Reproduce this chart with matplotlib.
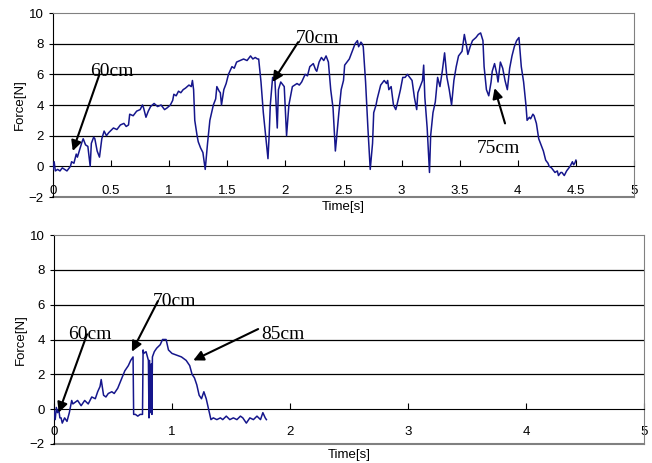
import matplotlib.pyplot as plt

# upper trace: time [s], force [N]
t_top = [0.00, 0.01, 0.02, 0.04, 0.06, 0.08, 0.10, 0.12, 0.14, 0.15, 0.16, 0.18, 0.20, 0.21, 0.23,
         0.25, 0.26, 0.28, 0.30, 0.32, 0.33, 0.35, 0.36, 0.38, 0.40, 0.42, 0.44, 0.46, 0.48, 0.52,
         0.55, 0.58, 0.61, 0.63, 0.65, 0.66, 0.69, 0.72, 0.75, 0.77, 0.78, 0.80, 0.82, 0.84, 0.87,
         0.90, 0.93, 0.96, 0.98, 1.01, 1.03, 1.04, 1.06, 1.08, 1.10, 1.12, 1.14, 1.17, 1.19, 1.20,
         1.21, 1.22, 1.24, 1.25, 1.27, 1.29, 1.31, 1.33, 1.35, 1.38, 1.40, 1.41, 1.43, 1.44, 1.45,
         1.47, 1.49, 1.51, 1.54, 1.56, 1.58, 1.61, 1.64, 1.67, 1.70, 1.72, 1.74, 1.76, 1.77, 1.79,
         1.81, 1.83, 1.85, 1.86, 1.87, 1.89, 1.91, 1.92, 1.93, 1.94, 1.96, 1.98, 1.99, 2.01, 2.03,
         2.06, 2.08, 2.10, 2.12, 2.14, 2.17, 2.19, 2.21, 2.24, 2.26, 2.27, 2.29, 2.31, 2.33, 2.35,
         2.37, 2.39, 2.41, 2.43, 2.44, 2.46, 2.48, 2.50, 2.51, 2.53, 2.55, 2.57, 2.58, 2.60, 2.62,
         2.63, 2.65, 2.66, 2.67, 2.69, 2.71, 2.73, 2.75, 2.76, 2.78, 2.79, 2.82, 2.85, 2.87, 2.88,
         2.89, 2.91, 2.93, 2.95, 2.96, 2.99, 3.01, 3.03, 3.05, 3.06, 3.09, 3.11, 3.13, 3.14, 3.16,
         3.18, 3.19, 3.20, 3.22, 3.24, 3.25, 3.27, 3.29, 3.31, 3.33, 3.35, 3.37, 3.39, 3.41, 3.43,
         3.45, 3.47, 3.49, 3.52, 3.54, 3.56, 3.57, 3.59, 3.61, 3.64, 3.66, 3.68, 3.70, 3.71, 3.73,
         3.75, 3.77, 3.78, 3.80, 3.82, 3.83, 3.85, 3.87, 3.89, 3.91, 3.93, 3.95, 3.97, 3.99, 4.01,
         4.03, 4.05, 4.07, 4.08, 4.10, 4.11, 4.13, 4.14, 4.16, 4.18, 4.20, 4.22, 4.24, 4.26, 4.27,
         4.29, 4.30, 4.32, 4.34, 4.35, 4.37, 4.38, 4.40, 4.42, 4.43, 4.45, 4.47, 4.48, 4.49, 4.50]
f_top = [-0.2, 0.3, -0.3, -0.2, -0.3, -0.1, -0.2, -0.3, -0.1, 0.0, 0.3, 0.2, 0.8, 0.6, 1.1,
         1.6, 1.8, 1.4, 1.3, 0.0, 1.5, 1.9, 1.8, 1.0, 0.6, 1.8, 2.3, 2.0, 2.2, 2.5,
         2.4, 2.7, 2.8, 2.6, 2.7, 3.4, 3.3, 3.6, 3.7, 4.0, 3.8, 3.2, 3.6, 3.9, 4.1,
         3.9, 4.0, 3.7, 3.8, 4.0, 4.3, 4.7, 4.6, 4.9, 4.8, 5.0, 5.1, 5.3, 5.2, 5.6,
         5.0, 3.0, 2.0, 1.6, 1.2, 0.9, -0.2, 1.5, 3.0, 4.0, 4.4, 5.2, 4.9, 4.8, 4.0,
         5.0, 5.4, 6.0, 6.5, 6.4, 6.8, 6.9, 7.0, 6.9, 7.2, 7.0, 7.1, 7.0, 7.0, 5.5,
         3.5, 2.0, 0.5, 2.0, 4.0, 5.8, 5.6, 4.0, 2.5, 5.0, 5.5, 5.3, 5.2, 2.0, 4.0,
         5.2, 5.3, 5.4, 5.3, 5.5, 6.0, 5.9, 6.5, 6.7, 6.3, 6.2, 6.8, 7.1, 6.9, 7.2,
         6.8, 5.0, 3.8, 1.0, 1.8, 3.5, 5.0, 5.6, 6.6, 6.8, 7.0, 7.4, 7.6, 8.0, 8.2,
         7.8, 8.1, 8.0, 7.8, 5.5, 2.5, -0.2, 1.5, 3.5, 4.0, 4.4, 5.3, 5.6, 5.4, 5.6,
         5.0, 5.2, 4.0, 3.7, 4.0, 5.0, 5.8, 5.8, 6.0, 5.9, 5.6, 4.5, 3.7, 4.8, 5.2,
         5.6, 6.6, 4.5, 2.5, -0.4, 2.0, 3.5, 4.2, 5.8, 5.2, 6.2, 7.4, 5.8, 5.0, 4.0,
         5.6, 6.5, 7.2, 7.5, 8.6, 7.8, 7.3, 7.8, 8.2, 8.4, 8.6, 8.7, 8.2, 6.5, 5.0,
         4.6, 5.5, 6.2, 6.7, 6.0, 5.5, 6.8, 6.4, 5.6, 5.0, 6.4, 7.2, 7.8, 8.2, 8.4,
         6.5, 5.5, 4.0, 3.0, 3.2, 3.1, 3.4, 3.3, 2.8, 1.8, 1.4, 1.0, 0.4, 0.2, 0.0,
         -0.1, -0.2, -0.4, -0.3, -0.6, -0.4, -0.4, -0.6, -0.3, -0.2, 0.0, 0.3, 0.1, 0.2, 0.4]

# lower trace
t_bot = [0.00, 0.01, 0.02, 0.03, 0.04, 0.05, 0.06, 0.07, 0.09, 0.11, 0.13, 0.15, 0.16, 0.18, 0.20,
         0.23, 0.26, 0.29, 0.32, 0.35, 0.37, 0.39, 0.40, 0.42, 0.44, 0.46, 0.49, 0.51, 0.54, 0.57,
         0.60, 0.63, 0.65, 0.67, 0.675, 0.69, 0.71, 0.73, 0.75, 0.755, 0.76, 0.78, 0.80, 0.805, 0.81,
         0.82, 0.825, 0.83, 0.834, 0.85, 0.87, 0.90, 0.92, 0.95, 0.97, 1.00, 1.04, 1.08, 1.12, 1.15,
         1.17, 1.19, 1.21, 1.23, 1.25, 1.27, 1.29, 1.31, 1.33, 1.35, 1.38, 1.41, 1.43, 1.46, 1.49,
         1.52, 1.55, 1.58, 1.60, 1.63, 1.66, 1.69, 1.72, 1.75, 1.77, 1.79, 1.80]
f_bot = [-0.1, -0.6, 0.1, -0.2, 0.0, -0.5, -0.5, -0.8, -0.5, -0.7, -0.2, 0.5, 0.3, 0.4, 0.5,
         0.2, 0.5, 0.3, 0.7, 0.6, 1.0, 1.3, 1.7, 0.8, 0.7, 0.9, 1.0, 0.9, 1.2, 1.7,
         2.2, 2.5, 2.8, 3.0, -0.3, -0.3, -0.4, -0.3, -0.3, 3.4, 3.2, 3.3, 2.8, -0.5, 2.8,
         -0.2, 2.6, -0.3, 3.0, 3.3, 3.5, 3.7, 4.0, 4.0, 3.4, 3.2, 3.1, 3.0, 2.8, 2.5,
         2.0, 1.8, 1.4, 0.8, 0.6, 1.0, 0.6, 0.0, -0.6, -0.5, -0.6, -0.5, -0.6, -0.4, -0.6,
         -0.5, -0.6, -0.4, -0.5, -0.8, -0.5, -0.6, -0.4, -0.6, -0.2, -0.5, -0.6]

# annotations: label, text anchor (left, and top/bottom), arrow tail, arrow head
notes_top = [("60cm", (0.32, 5.6, "bottom"), (0.40, 6.0), (0.17, 1.0)),
             ("70cm", (2.09, 7.8, "bottom"), (2.11, 8.1), (1.89, 5.5)),
             ("75cm", (3.65, 1.7, "top"), (3.89, 2.8), (3.80, 5.1))]
notes_bot = [("60cm", (0.12, 3.8, "bottom"), (0.28, 4.3), (0.04, -0.2)),
             ("70cm", (0.84, 5.7, "bottom"), (0.88, 6.2), (0.66, 3.3)),
             ("85cm", (1.76, 3.8, "bottom"), (1.73, 4.6), (1.18, 2.8))]

line_color = "#15168c"
plt.rcParams['font.family'] = ['Liberation Sans', 'DejaVu Sans']

fig = plt.figure(figsize=(6.52, 4.63), dpi=100)
ax1 = fig.add_axes([53/652, 1 - 197/463, 581/652, 184/463])
ax2 = fig.add_axes([54/652, 1 - 444/463, 590/652, 209/463])


def style(ax, pad):
    ax.set_xlim(0, 5)
    ax.set_ylim(-2, 10)
    ax.set_yticks(range(-2, 11, 2))
    for y in (2, 4, 6, 8):
        ax.axhline(y, color="black", lw=0.9, zorder=1)
    ax.spines['bottom'].set_position(('data', 0))
    ax.spines['bottom'].set_color("black")
    ax.spines['left'].set_color("black")
    ax.spines['top'].set_color("#808080")
    ax.spines['right'].set_color("#808080")
    ax.axhline(-2, color="#808080", lw=1.5, clip_on=False, zorder=1)
    ax.tick_params(axis='x', direction='in', length=4, pad=pad, labelsize=9.5)
    ax.tick_params(axis='y', direction='out', length=3, labelsize=9.5)
    ax.set_ylabel("Force[N]", fontsize=9.5, labelpad=2)


style(ax1, 13.5)
ax1.set_xticks([0, 0.5, 1, 1.5, 2, 2.5, 3, 3.5, 4, 4.5, 5])
ax1.set_xticklabels(["0", "0.5", "1", "1.5", "2", "2.5", "3", "3.5", "4", "4.5", "5"])
ax1.plot(t_top, f_top, color=line_color, lw=1.1, zorder=3)
ax1.set_xlabel("Time[s]", fontsize=9.5)
ax1.xaxis.set_label_coords(0.5, -0.02)

style(ax2, 12)
ax2.set_xticks([0, 1, 2, 3, 4, 5])
ax2.plot(t_bot, f_bot, color=line_color, lw=1.1, zorder=3)
ax2.set_xlabel("Time[s]", fontsize=9.5)
ax2.xaxis.set_label_coords(0.5, -0.022)

for ax, notes in ((ax1, notes_top), (ax2, notes_bot)):
    for label, (tx, ty, va), tail, head in notes:
        ax.annotate("", xy=head, xytext=tail,
                    arrowprops=dict(arrowstyle="-|>", color="black", lw=1.5,
                                    mutation_scale=15, shrinkA=0, shrinkB=0), zorder=4)
        ax.text(tx, ty, label, family="Liberation Serif", fontsize=14,
                va=va, ha="left", zorder=4)

fig.savefig("out.png", dpi=100)
